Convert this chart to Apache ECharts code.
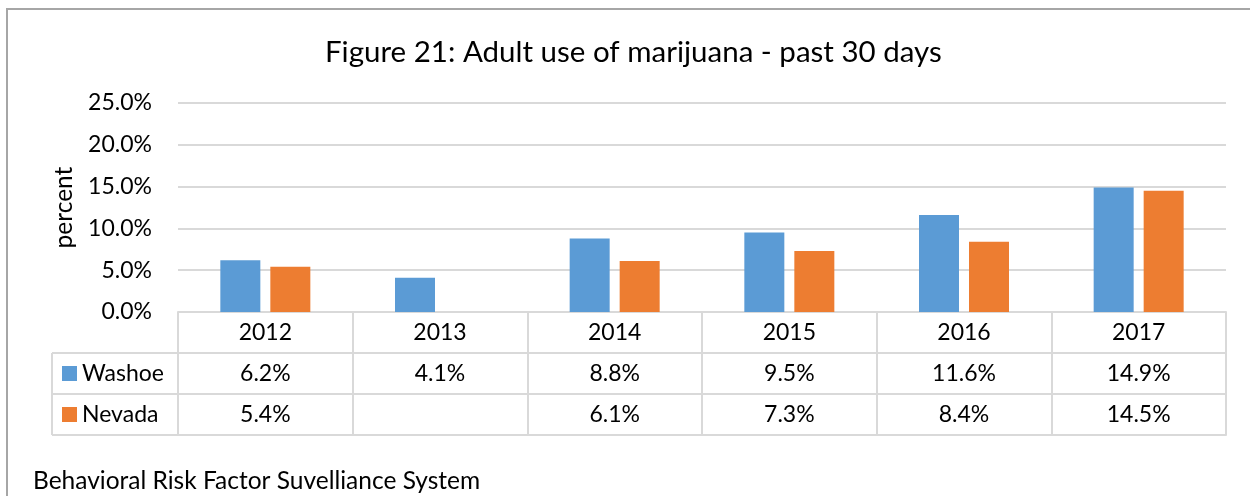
<!DOCTYPE html>
<html>
<head>
<meta charset="utf-8">
<script src="https://cdn.jsdelivr.net/npm/echarts@6/dist/echarts.min.js"></script>
<style>
  html, body { margin: 0; padding: 0; background: #fff; }
  #chart { width: 1250px; height: 496px; }
</style>
</head>
<body>
<div id="chart"></div>
<script>
// Adult use of marijuana in the past 30 days, percent of adults
const years = ['2012', '2013', '2014', '2015', '2016', '2017'];
const washoe = [6.2, 4.1, 8.8, 9.5, 11.6, 14.9];
const nevada = [5.4, null, 6.1, 7.3, 8.4, 14.5];
const seriesNames = ['Washoe', 'Nevada'];
const yTicks = { min: 0, max: 25, step: 5 };

const FONT = 'Lato';
const FS = 23;
const LINE = '#d9d9d9';
const TXT = '#000';

const fmtPct = v => (v == null ? '' : v.toFixed(1) + '%');

// grid edges (pixels) shared by the plot and the data table beneath it
const G = { left: 178, right: 24, top: 103, bottom: 184 };
const ROW = 41;
const plotBottom = 496 - G.bottom;

function tableAxis(values, offset, showLabel) {
  return {
    type: 'category',
    data: years,
    position: 'bottom',
    offset: offset,
    axisLine: { show: true, lineStyle: { color: LINE, width: 2 } },
    axisTick: { show: false },
    axisLabel: {
      show: showLabel,
      margin: ROW / 2,
      verticalAlign: 'middle',
      fontFamily: FONT, fontSize: FS, color: TXT,
      formatter: (v, i) => (values ? fmtPct(values[i]) : v)
    },
    splitLine: { show: false }
  };
}

const chart = echarts.init(document.getElementById('chart'), null, { renderer: 'canvas' });

const option = {
  backgroundColor: '#fff',
  animation: false,
  textStyle: { fontFamily: FONT },
  title: {
    text: 'Figure 21: Adult use of marijuana - past 30 days',
    left: 320,
    top: 32,
    textStyle: { fontFamily: FONT, fontSize: 29.5, fontWeight: 'normal', color: TXT }
  },
  legend: {
    orient: 'vertical',
    left: 62,
    top: plotBottom + ROW + (ROW - FS) / 2,
    padding: 0,
    itemWidth: 15,
    itemHeight: 15,
    itemGap: ROW - FS,
    icon: 'rect',
    textStyle: { fontFamily: FONT, fontSize: FS, color: TXT },
    data: seriesNames
  },
  grid: { left: G.left, right: G.right, top: G.top, bottom: G.bottom, containLabel: false },
  xAxis: [
    {
      type: 'category',
      data: years,
      position: 'bottom',
      axisLine: { show: true, lineStyle: { color: LINE, width: 2 } },
      axisTick: {
        show: true,
        alignWithLabel: false,
        length: ROW * 3,
        lineStyle: { color: LINE, width: 2 }
      },
      axisLabel: {
        margin: ROW / 2,
        verticalAlign: 'middle',
        fontFamily: FONT, fontSize: FS, color: TXT
      }
    },
    tableAxis(washoe, ROW, true),
    tableAxis(nevada, ROW * 2, true),
    tableAxis(null, ROW * 3, false)
  ],
  yAxis: {
    type: 'value',
    min: yTicks.min,
    max: yTicks.max,
    interval: yTicks.step,
    name: 'percent',
    nameLocation: 'middle',
    nameGap: 101,
    nameRotate: 90,
    nameTextStyle: { fontFamily: FONT, fontSize: 24.5, color: TXT },
    axisLine: { show: false },
    axisTick: { show: false },
    axisLabel: {
      margin: 26,
      fontFamily: FONT, fontSize: FS, color: TXT,
      formatter: v => v.toFixed(1) + '%'
    },
    splitLine: { show: true, lineStyle: { color: LINE, width: 2 } }
  },
  series: [
    {
      name: seriesNames[0],
      type: 'bar',
      data: washoe,
      barWidth: 40,
      barGap: '25%',
      itemStyle: { color: '#5b9bd5' }
    },
    {
      name: seriesNames[1],
      type: 'bar',
      data: nevada,
      barWidth: 40,
      barGap: '25%',
      itemStyle: { color: '#ed7d31' }
    }
  ],
  graphic: [
    // outer chart frame
    {
      type: 'rect',
      shape: { x: 7, y: 9, width: 1260, height: 520 },
      style: { fill: null, stroke: '#a6a6a6', lineWidth: 2 },
      silent: true
    },
    // legend column of the data table
    {
      type: 'group',
      silent: true,
      children: [1, 2, 3].map(k => ({
        type: 'line',
        shape: { x1: 52, y1: plotBottom + ROW * k, x2: G.left, y2: plotBottom + ROW * k },
        style: { stroke: LINE, lineWidth: 2 }
      })).concat([{
        type: 'line',
        shape: { x1: 52, y1: plotBottom + ROW, x2: 52, y2: plotBottom + ROW * 3 },
        style: { stroke: LINE, lineWidth: 2 }
      }])
    },
    // source note
    {
      type: 'text',
      left: 33,
      top: 469,
      style: {
        text: 'Behavioral Risk Factor Suvelliance System',
        fontFamily: FONT, fontSize: 24.5, fill: TXT
      }
    }
  ]
};

chart.setOption(option);
</script>
</body>
</html>
